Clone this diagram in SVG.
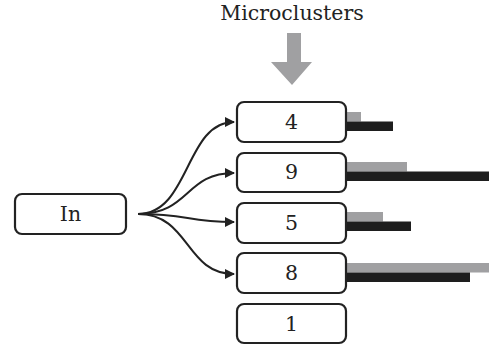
<svg xmlns="http://www.w3.org/2000/svg" width="489" height="346" viewBox="0 0 489 346">
<style>
.box{fill:#fff;stroke:#222;stroke-width:2.2}
.t{font-family:"DejaVu Serif",serif;font-size:20.5px;fill:#222;text-anchor:middle}
.c{fill:none;stroke:#222;stroke-width:2}
.g{fill:#a0a0a2}
.k{fill:#1e1e1e}
</style>
<defs>
<marker id="ah" viewBox="0 0 10 10" refX="9" refY="5" markerWidth="5" markerHeight="5" orient="auto" markerUnits="strokeWidth">
<path d="M0,0 L10,5 L0,10 z" fill="#222"/>
</marker>
</defs>
<text class="t" x="292" y="20">Microclusters</text>
<path class="g" d="M287,33 H301 V62 H312 L292,85 L271,62 H287 z"/>
<g id="bars">
<rect class="g" x="346" y="112" width="15" height="9.5"/>
<rect class="k" x="346" y="121.5" width="47" height="9.5"/>
<rect class="g" x="346" y="162" width="61" height="9.5"/>
<rect class="k" x="346" y="171.5" width="143" height="9.5"/>
<rect class="g" x="346" y="212" width="37" height="9.5"/>
<rect class="k" x="346" y="221.5" width="65" height="9.5"/>
<rect class="g" x="346" y="263" width="143" height="9.5"/>
<rect class="k" x="346" y="272.5" width="124" height="9.5"/>
</g>
<g id="connectors">
<path class="c" d="M138,214 C190,214 185,122 234,122" marker-end="url(#ah)"/>
<path class="c" d="M138,214 C190,214 185,173 234,173" marker-end="url(#ah)"/>
<path class="c" d="M138,214 C190,214 185,222 234,222" marker-end="url(#ah)"/>
<path class="c" d="M138,214 C190,214 185,274 234,274" marker-end="url(#ah)"/>
</g>
<g id="in"><rect class="box" x="15" y="194" width="111" height="40" rx="7"/><text class="t" x="70.5" y="221">In</text></g>
<g id="n4"><rect class="box" x="237" y="102" width="109" height="40" rx="7"/><text class="t" x="291.5" y="129">4</text></g>
<g id="n9"><rect class="box" x="237" y="153" width="109" height="39" rx="7"/><text class="t" x="291.5" y="179">9</text></g>
<g id="n5"><rect class="box" x="237" y="203" width="109" height="40" rx="7"/><text class="t" x="291.5" y="230">5</text></g>
<g id="n8"><rect class="box" x="237" y="253" width="109" height="40" rx="7"/><text class="t" x="291.5" y="280">8</text></g>
<g id="n1"><rect class="box" x="237" y="304" width="109" height="39" rx="7"/><text class="t" x="291.5" y="331">1</text></g>
</svg>
